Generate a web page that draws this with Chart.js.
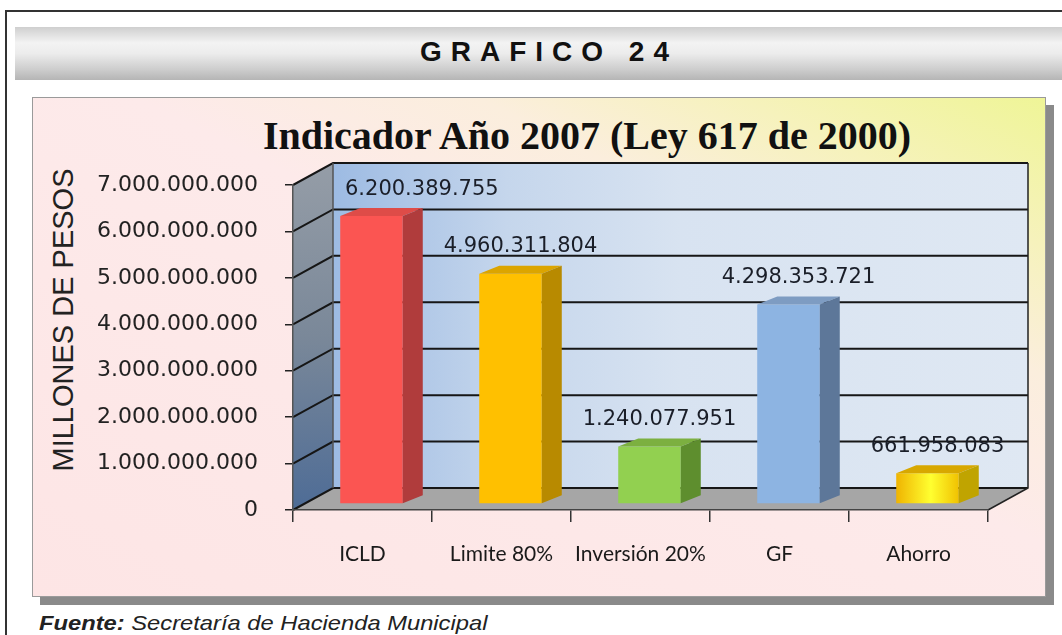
<!DOCTYPE html>
<html>
<head>
<meta charset="utf-8">
<title>Grafico 24</title>
<script src="https://cdn.jsdelivr.net/npm/chart.js@4.4.0/dist/chart.umd.min.js"></script>
<style>
  html, body { margin: 0; padding: 0; background: #fff; }
  body { width: 1062px; height: 635px; overflow: hidden; position: relative; font-family: "Liberation Sans", Arial, sans-serif; }
  #frame { position: absolute; left: 5px; top: 10px; width: 1100px; height: 700px; border-left: 2px solid #333; border-top: 2px solid #333; }
  #banner { position: absolute; left: 15px; top: 27px; width: 1060px; height: 53px;
    background: linear-gradient(to bottom, #cfcfcf 0%, #f3f3f3 30%, #ececec 50%, #cdcdcd 80%, #b5b5b5 100%); }
  #banner-text { position: absolute; left: 249px; width: 600px; top: 38px; text-align: center;
    font: bold 28px/28px "Liberation Sans", Arial, sans-serif; letter-spacing: 9px; color: #111; }
  #box { position: absolute; left: 32px; top: 97px; width: 1012px; height: 498px; border: 1px solid #9a9a9a;
    background: linear-gradient(to top right, #fde5e5 0%, #fdeaea 55%, #fbeedd 72%, #f6f2bc 85%, #eff597 100%);
    box-shadow: 8px 8px 0 #8a8a8a; }
  #title { position: absolute; left: 187px; width: 800px; top: 116px; text-align: center;
    font: bold 40px/40px "Liberation Serif", "Times New Roman", serif; color: #111; }
  #ylabel { position: absolute; left: -137px; top: 305px; width: 400px; text-align: center;
    font: 29px/30px "Liberation Sans", Arial, sans-serif; color: #222; transform: rotate(-90deg); }
  #chart { position: absolute; left: 32px; top: 97px; }
  #fuente { position: absolute; left: 39px; top: 612px; white-space: nowrap;
    font: italic 21px/21px "Liberation Sans", Arial, sans-serif; color: #222;
    transform: scaleX(1.13); transform-origin: left center; }
</style>
</head>
<body>
<div id="frame"></div>
<div id="banner"></div>
<div id="banner-text">GRAFICO 24</div>
<div id="box"></div>
<div id="title">Indicador Año 2007 (Ley 617 de 2000)</div>
<div id="ylabel">MILLONES DE PESOS</div>
<canvas id="chart" width="1014" height="500"></canvas>
<div id="fuente"><b>Fuente:</b> Secretaría de Hacienda Municipal</div>

<script>
// data
const categories = ["ICLD", "Limite 80%", "Inversión 20%", "GF", "Ahorro"];
const values = [6200389755, 4960311804, 1240077951, 4298353721, 661958083];
const yMin = 0;
const yMax = 7000000000;
const yStep = 1000000000;

// bar colours: front, top and side faces
const frontColors = ["#fb5552", "#ffc000", "#92d050", "#8db4e2", "#ffd000"];
const topColors = ["#de4c48", "#dca500", "#7cb040", "#7e9cc2", "#d8a800"];
const sideColors = ["#b03c3c", "#b88a00", "#5e8e2e", "#5d7799", "#c0a400"];

// 3D geometry
const WALL_DX = 40, WALL_DY = -22;
const BAR_SHIFT_X = 9, BAR_SHIFT_Y = -6;
const BAR_DX = 20, BAR_DY = -8;

function fmt(v) {
  return String(Math.round(v)).replace(/\B(?=(\d{3})+(?!\d))/g, ".");
}

const box3d = {
  id: "box3d",
  beforeDraw(chart) {
    const { ctx, chartArea: a, scales: { y } } = chart;
    ctx.save();

    // back wall
    const bl = a.left + WALL_DX, br = a.right + WALL_DX;
    const bt = a.top + WALL_DY, bb = a.bottom + WALL_DY;
    const g = ctx.createLinearGradient(bl, 0, br, 0);
    g.addColorStop(0, "#9dbbe3");
    g.addColorStop(0.25, "#c5d6ec");
    g.addColorStop(0.5, "#d8e3f1");
    g.addColorStop(1, "#dfe8f3");
    ctx.fillStyle = g;
    ctx.fillRect(bl, bt, br - bl, bb - bt);

    // left wall
    const lg = ctx.createLinearGradient(0, bt, 0, a.bottom);
    lg.addColorStop(0, "#959da7");
    lg.addColorStop(0.5, "#7a8899");
    lg.addColorStop(1, "#4e6c96");
    ctx.fillStyle = lg;
    ctx.beginPath();
    ctx.moveTo(a.left, a.top);
    ctx.lineTo(bl, bt);
    ctx.lineTo(bl, bb);
    ctx.lineTo(a.left, a.bottom);
    ctx.closePath();
    ctx.fill();

    // floor
    ctx.fillStyle = "#a6a6a6";
    ctx.beginPath();
    ctx.moveTo(a.left, a.bottom);
    ctx.lineTo(a.right, a.bottom);
    ctx.lineTo(br, bb);
    ctx.lineTo(bl, bb);
    ctx.closePath();
    ctx.fill();

    // grid lines on the walls
    ctx.strokeStyle = "#161616";
    ctx.lineWidth = 2;
    y.ticks.forEach((t) => {
      const yp = y.getPixelForValue(t.value);
      ctx.beginPath();
      ctx.moveTo(a.left, yp);
      ctx.lineTo(bl, yp + WALL_DY);
      ctx.lineTo(br, yp + WALL_DY);
      ctx.stroke();
    });

    // wall edges
    ctx.lineWidth = 1.5;
    ctx.strokeStyle = "#555";
    ctx.beginPath();
    ctx.moveTo(bl, bt);
    ctx.lineTo(bl, bb);
    ctx.stroke();
    ctx.strokeStyle = "#222";
    ctx.beginPath();
    ctx.moveTo(br, bt);
    ctx.lineTo(br, bb);
    ctx.lineTo(a.right, a.bottom);
    ctx.stroke();
    ctx.restore();
  },
  beforeDatasetDraw(chart) {
    chart.ctx.save();
    chart.ctx.translate(BAR_SHIFT_X, BAR_SHIFT_Y);
  },
  afterDatasetDraw(chart, args) {
    const ctx = chart.ctx;
    args.meta.data.forEach((bar, i) => {
      const { x, y, base, width } = bar.getProps(["x", "y", "base", "width"], true);
      const l = x - width / 2, r = x + width / 2;
      ctx.fillStyle = topColors[i];
      ctx.beginPath();
      ctx.moveTo(l, y);
      ctx.lineTo(l + BAR_DX, y + BAR_DY);
      ctx.lineTo(r + BAR_DX, y + BAR_DY);
      ctx.lineTo(r, y);
      ctx.closePath();
      ctx.fill();
      ctx.fillStyle = sideColors[i];
      ctx.beginPath();
      ctx.moveTo(r, y);
      ctx.lineTo(r + BAR_DX, y + BAR_DY);
      ctx.lineTo(r + BAR_DX, base + BAR_DY);
      ctx.lineTo(r, base);
      ctx.closePath();
      ctx.fill();
    });
    ctx.restore();
  },
  afterDatasetsDraw(chart) {
    const { ctx, chartArea: a } = chart;
    const meta = chart.getDatasetMeta(0);
    ctx.save();
    ctx.font = '21px "DejaVu Sans", Verdana, sans-serif';
    ctx.fillStyle = "#1a1e28";
    ctx.textBaseline = "middle";
    ctx.textAlign = "left";
    meta.data.forEach((bar, i) => {
      const txt = fmt(values[i]);
      const w = ctx.measureText(txt).width;
      const cx = bar.x + BAR_SHIFT_X + BAR_DX / 2;
      let lx = cx - w / 2;
      lx = Math.max(lx, a.left + WALL_DX + 12);
      ctx.fillText(txt, lx, bar.y + BAR_SHIFT_Y - 27);
    });
    ctx.restore();
  }
};

new Chart(document.getElementById("chart"), {
  type: "bar",
  data: {
    labels: categories,
    datasets: [{
      data: values,
      backgroundColor(c) {
        const i = c.dataIndex;
        const chart = c.chart;
        if (i !== 4 || !chart.chartArea || !chart.scales.x) return frontColors[i];
        const xs = chart.scales.x;
        const cx = xs.getPixelForValue(i);
        const g = chart.ctx.createLinearGradient(cx - 32, 0, cx + 32, 0);
        g.addColorStop(0, "#efb200");
        g.addColorStop(0.55, "#ffff30");
        g.addColorStop(1, "#f0c000");
        return g;
      },
      borderWidth: 0,
      barPercentage: 0.45,
      categoryPercentage: 1,
      clip: false
    }]
  },
  options: {
    responsive: false,
    animation: false,
    layout: { padding: { top: 88, right: 58, left: 0, bottom: 0 } },
    plugins: {
      legend: { display: false },
      tooltip: { enabled: false }
    },
    scales: {
      x: {
        afterFit(s) { s.height = 87; },
        grid: { offset: true, drawOnChartArea: false, drawTicks: true, tickLength: 12, color: "#333", lineWidth: 1.5 },
        border: { display: true, color: "#444", width: 1.5 },
        ticks: { color: "#1a1a1a", padding: 20, font: { family: "Lato", size: 21 } }
      },
      y: {
        min: yMin,
        max: yMax,
        afterFit(s) { s.width = 261; },
        grid: { drawOnChartArea: false, drawTicks: true, tickLength: 8, color: "#222", lineWidth: 1.5 },
        border: { display: true, color: "#555", width: 1.5 },
        ticks: {
          stepSize: yStep,
          padding: 27,
          color: "#222",
          font: { family: "DejaVu Sans", size: 22 },
          callback: (v) => fmt(v)
        }
      }
    }
  },
  plugins: [box3d]
});
</script>
</body>
</html>
